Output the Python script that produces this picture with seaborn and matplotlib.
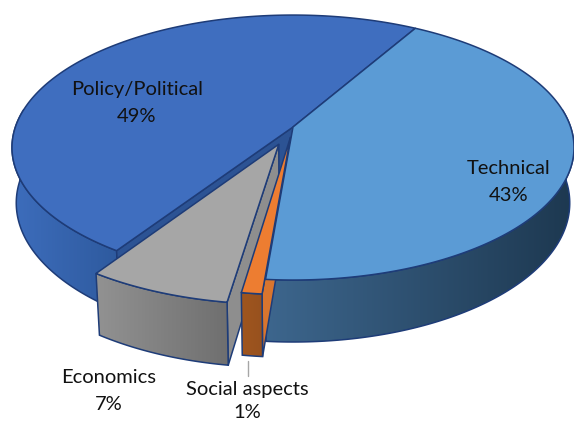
import numpy as np
import matplotlib
matplotlib.use("Agg")
import matplotlib.pyplot as plt
from matplotlib.colors import LinearSegmentedColormap
from matplotlib.patches import Polygon
import seaborn as sns

# Shares in drawing order, counter-clockwise from the Policy/Technical seam
categories = ["Policy/Political", "Economics", "Social aspects", "Technical"]
shares = [49, 7, 1, 43]
explode = [0.0, 0.14, 0.08, 0.0]
top_colors = ["#3F6EBF", "#A6A6A6", "#ED7D31", "#5B9BD5"]
wall_from = ["#3D6DBC", "#929292", "#A0561F", "#3D668D"]
wall_to = ["#2E5A9E", "#6F6F6F", "#97511E", "#1D3850"]
cut_colors = ["#2C5394", "#8E8E8E", "#D9752E", "#2C5394"]
label_xy = [(137, 103), (109, 391), (247, 401), (509, 182)]
label_spacing = [1.65, 1.65, 1.5, 1.65]

START_ANGLE = 60.0
EDGE = "#1E3C78"

# Perspective projection of the unit disc onto the canvas (pixels)
CX, CY = 293.0, 127.0
RX, RY = 277.6, 129.3
TILT = 0.155
DEPTH = 55.6
DEPTH_SHRINK = 0.015


def project(u, v, z):
    w = 1 - TILT * v + DEPTH_SHRINK * z
    return CX + RX * u / w, CY + (RY * v + DEPTH * z) / w


def disc(angle_deg, off, z):
    a = np.radians(angle_deg)
    return project(np.cos(a) + off[0], -np.sin(a) + off[1], z)


sns.set_theme(style="white")
plt.rcParams["font.family"] = ["Lato", "DejaVu Sans"]
palette = sns.color_palette(top_colors)

fig = plt.figure(figsize=(5.74, 4.23), dpi=100)
ax = fig.add_axes([0, 0, 1, 1])
ax.axis("off")

# Slice angle ranges follow from the shares
total = sum(shares)
spans = np.cumsum([0] + shares) / total * 360 + START_ANGLE
slices = []
for i, name in enumerate(categories):
    a0, a1 = spans[i], spans[i + 1]
    mid = np.radians((a0 + a1) / 2)
    off = (explode[i] * np.cos(mid), -explode[i] * np.sin(mid))
    slices.append(dict(i=i, a0=a0, a1=a1, off=off))


def draw_wall(s, zorder):
    i = s["i"]
    # Only the part of the rim that faces the viewer is drawn
    lo = max(s["a0"], 172)
    hi = min(s["a1"], 368)
    angles = np.linspace(lo, hi, 160)
    ring = [disc(a, s["off"], 0) for a in angles] + [disc(a, s["off"], 1) for a in angles[::-1]]
    xs, ys = zip(*ring)
    outline = Polygon(ring, closed=True, fc="none", ec=EDGE, lw=1.1, zorder=zorder + 0.1)
    ax.add_patch(outline)
    cmap = LinearSegmentedColormap.from_list("wall", [wall_from[i], wall_to[i]])
    shade = ax.imshow(np.linspace(0, 1, 256)[None, :], cmap=cmap, aspect="auto",
                      extent=[min(xs), max(xs), max(ys), min(ys)], zorder=zorder)
    shade.set_clip_path(outline)


def draw_cut(s, angle, zorder):
    i = s["i"]
    apex0 = project(s["off"][0], s["off"][1], 0)
    apex1 = project(s["off"][0], s["off"][1], 1)
    face = [apex0, disc(angle, s["off"], 0), disc(angle, s["off"], 1), apex1]
    ax.add_patch(Polygon(face, closed=True, fc=cut_colors[i], ec=EDGE, lw=1.1, zorder=zorder))


def draw_top(s, zorder):
    i = s["i"]
    angles = np.linspace(s["a0"], s["a1"], 200)
    pts = [project(s["off"][0], s["off"][1], 0)] + [disc(a, s["off"], 0) for a in angles]
    ax.add_patch(Polygon(pts, closed=True, fc=palette[i], ec=EDGE, lw=1.1,
                         joinstyle="round", zorder=zorder))


policy, econ, social, tech = slices

# Back-to-front: unexploded body, then the two pulled-out slices
draw_wall(policy, 1)
draw_cut(policy, policy["a1"], 1.5)
draw_top(policy, 2)
draw_wall(tech, 2.5)

draw_cut(econ, econ["a1"], 3)
draw_wall(econ, 3.2)
draw_top(econ, 3.5)

# The Technical top hides most of the small slice's cut face
draw_cut(social, social["a1"], 4)
draw_top(tech, 4.5)
draw_wall(social, 5)
draw_top(social, 5.5)

# Leader line under the smallest slice
ax.plot([248, 248], [361, 376], color="#A6A6A6", lw=1.0, zorder=6)

for name, share, (x, y), spacing in zip(categories, shares, label_xy, label_spacing):
    ax.text(x, y, f"{name}\n{share}%", ha="center", va="center",
            fontsize=14.5, color="#111111", linespacing=spacing, zorder=7)

ax.set_xlim(0, 574)
ax.set_ylim(423, 0)

fig.savefig("out.png", dpi=100)
